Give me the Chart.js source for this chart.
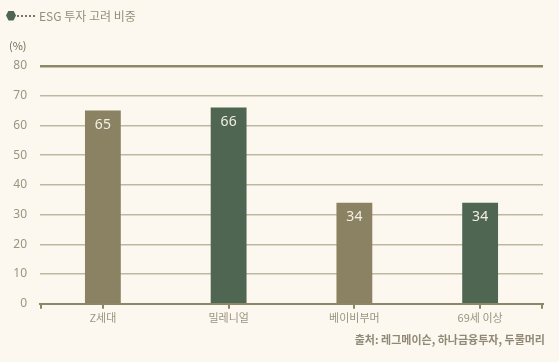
<!DOCTYPE html>
<html>
<head>
<meta charset="utf-8">
<script src="https://cdn.jsdelivr.net/npm/chart.js@4"></script>
<style>
  html, body { margin: 0; padding: 0; background: #fdf8ef; }
  #wrap { position: relative; width: 559px; height: 362px; font-family: "Noto Sans CJK KR", "Noto Sans", sans-serif; }
  canvas { position: absolute; left: 0; top: 0; }
  .legend { position: absolute; left: 6px; top: 7px; display: flex; align-items: center; font-size: 12px; color: #948e7a; }
  .hex { width: 10px; height: 10px; background: #4f6653; clip-path: polygon(25% 0, 75% 0, 100% 50%, 75% 100%, 25% 100%, 0 50%); }
  .dots { width: 18px; border-top: 2px dotted #6f7a66; margin: 0 4px 0 1px; }
  .unit { position: absolute; left: 9px; top: 37px; font-size: 11px; color: #6f6a58; }
  .source { position: absolute; right: 14px; top: 331px; font-size: 11px; font-weight: bold; color: #8f8975; }
</style>
</head>
<body>
<div id="wrap">
  <canvas id="chart" width="559" height="362"></canvas>
  <div class="legend"><div class="hex"></div><div class="dots"></div><span>ESG 투자 고려 비중</span></div>
  <div class="unit">(%)</div>
  <div class="source">출처: 레그메이슨, 하나금융투자, 두물머리</div>
</div>
<script>
const categories = ['Z세대', '밀레니얼', '베이비부머', '69세 이상'];
const esgShare = [65, 66, 34, 34];
const barColors = ['#8a8262', '#4f6653', '#8a8262', '#4f6653'];
const yTicks = [0, 10, 20, 30, 40, 50, 60, 70, 80];

// values inside bar tops + little end ticks on the x axis
const extrasPlugin = {
    id: 'extras',
    afterDatasetsDraw(chart) {
        const ctx = chart.ctx;
        const meta = chart.getDatasetMeta(0);
        ctx.save();
        ctx.fillStyle = '#f3efe2';
        ctx.font = '14px "Noto Sans", sans-serif';
        ctx.textAlign = 'center';
        ctx.textBaseline = 'middle';
        meta.data.forEach((bar, i) => {
            ctx.fillText(esgShare[i], bar.x, bar.y + 14);
        });
        const area = chart.chartArea;
        ctx.strokeStyle = '#8c8766';
        ctx.lineWidth = 2;
        [area.left + 1, area.right - 1].forEach(x => {
            ctx.beginPath();
            ctx.moveTo(x, area.bottom);
            ctx.lineTo(x, area.bottom + 5);
            ctx.stroke();
        });
        ctx.restore();
    }
};

new Chart(document.getElementById('chart'), {
    type: 'bar',
    data: {
        labels: categories,
        datasets: [{
            label: 'ESG 투자 고려 비중',
            data: esgShare,
            backgroundColor: barColors,
            barPercentage: 0.57,
            categoryPercentage: 0.5
        }]
    },
    options: {
        responsive: false,
        animation: false,
        layout: { padding: { top: 66, right: 16, bottom: 36, left: 0 } },
        plugins: { legend: { display: false }, tooltip: { enabled: false } },
        scales: {
            y: {
                min: 0,
                max: 80,
                afterFit(scale) { scale.width = 40; },
                afterBuildTicks(scale) { scale.ticks = yTicks.map(v => ({ value: v })); },
                border: { display: false },
                grid: {
                    drawTicks: false,
                    color: ctx => ctx.tick && ctx.tick.value === 80 ? '#8c8766' : '#bdb8a0',
                    lineWidth: ctx => ctx.tick && ctx.tick.value === 80 ? 2.5 : 1.5
                },
                ticks: {
                    padding: 13,
                    color: '#9a9480',
                    font: { family: '"Noto Sans", sans-serif', size: 12 }
                }
            },
            x: {
                border: { display: true, color: '#8c8766', width: 2 },
                grid: {
                    offset: false,
                    drawOnChartArea: false,
                    drawTicks: true,
                    tickLength: 5,
                    color: '#8c8766',
                    lineWidth: 2
                },
                ticks: {
                    padding: 2,
                    color: '#9a9480',
                    font: { family: '"Noto Sans CJK KR", sans-serif', size: 11 }
                }
            }
        }
    },
    plugins: [extrasPlugin]
});
</script>
</body>
</html>
